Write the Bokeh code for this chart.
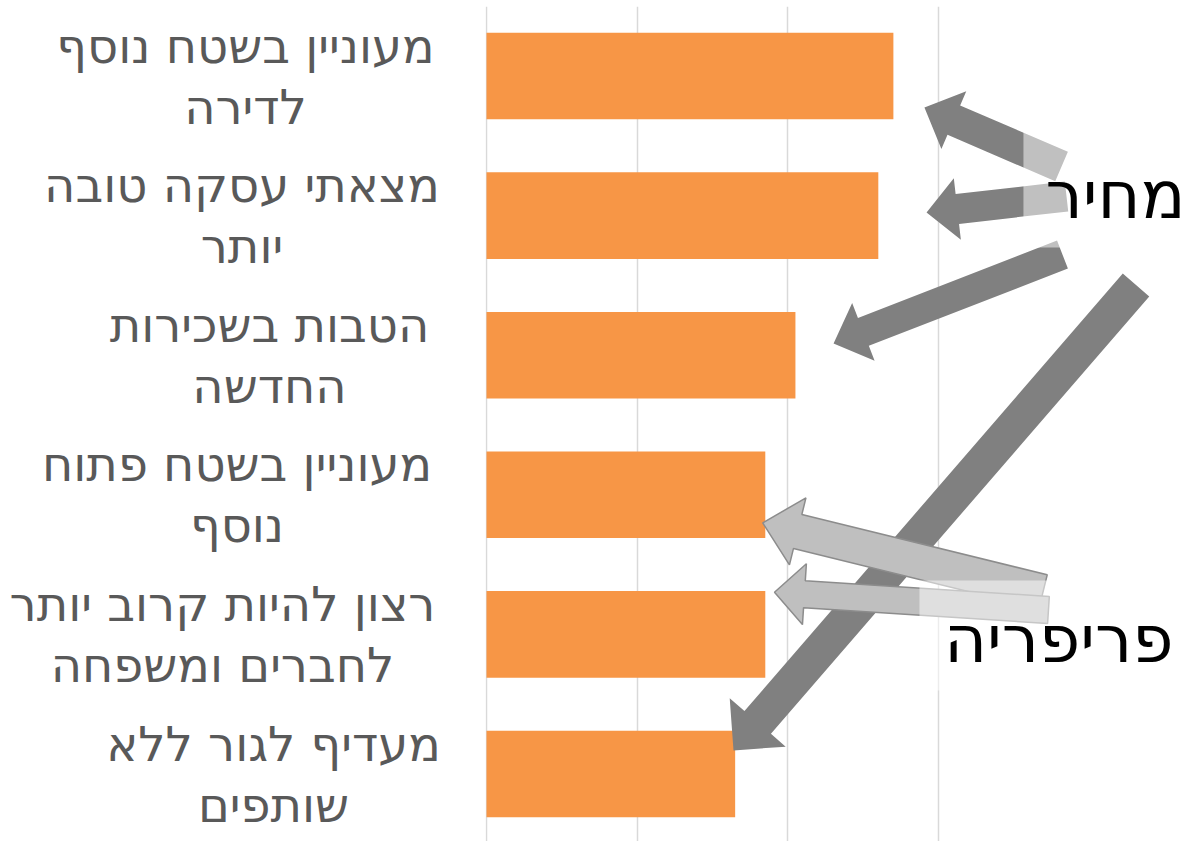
import math
from bokeh.plotting import figure
from bokeh.layouts import row
from bokeh.models import Range1d, FixedTicker, Grid, ColumnDataSource
from bokeh.core.properties import value
from bokeh.embed import file_html
from bokeh.resources import INLINE

# ---------------- data ----------------
categories = [
    "מעוניין בשטח נוסף\nלדירה",
    "מצאתי עסקה טובה\nיותר",
    "הטבות בשכירות\nהחדשה",
    "מעוניין בשטח פתוח\nנוסף",
    "רצון להיות קרוב יותר\nלחברים ומשפחה",
    "מעדיף לגור ללא\nשותפים",
]
values = [0.27, 0.26, 0.205, 0.185, 0.185, 0.165]
x_ticks = [0, 0.1, 0.2, 0.3]

callout_price = "מחיר"
callout_periphery = "פריפריה"

# ---------------- layout ----------------
W, H = 1187, 841
LEFT = 485                 # width of the label column
TOP = 6
FRAME_W = W - LEFT
FRAME_H = H - TOP
PX_PER_X = 1507.0          # pixels per value unit
PX_PER_CAT = 139.6         # pixels per category band
X0 = -1.0 / PX_PER_X
X_END = X0 + FRAME_W / PX_PER_X
Y_TOP = (TOP - 75.5) / PX_PER_CAT
Y_BOTTOM = Y_TOP + FRAME_H / PX_PER_CAT
SX = PX_PER_X
SY = PX_PER_CAT

# label block centres (screen px) and line offsets from the bar centre
label_center_px = [245, 241.5, 269, 236.5, 222, 273]
LINE1_OFF, LINE2_OFF = -30.5, 30.5

y_range = Range1d(Y_BOTTOM, Y_TOP)

p = figure(width=FRAME_W, height=H, output_backend="svg", toolbar_location=None,
           x_range=Range1d(X0, X_END), y_range=y_range,
           x_axis_location=None, y_axis_location=None,
           min_border_left=0, min_border_right=0,
           min_border_top=TOP, min_border_bottom=0)
p.outline_line_color = None
p.background_fill_color = "white"
p.border_fill_color = "white"
for g in list(p.xgrid) + list(p.ygrid):
    g.visible = False
p.add_layout(Grid(dimension=0, ticker=FixedTicker(ticks=x_ticks),
                  grid_line_color="#D9D9D9", grid_line_width=1.5))

idx = list(range(len(categories)))
p.hbar(y=idx, right=values, left=0, height=0.62,
       fill_color="#F79646", line_color=None)


def to_px(x, y):
    return (x - X0) * SX, (y - Y_TOP) * SY


def to_data(px, py):
    return px / SX + X0, py / SY + Y_TOP


def arrow(tail, tip, shaft, head_w, head_l):
    tx, ty = to_px(*tail)
    hx, hy = to_px(*tip)
    dx, dy = hx - tx, hy - ty
    L = math.hypot(dx, dy)
    ux, uy = dx / L, dy / L
    nx, ny = -uy, ux
    bx, by = hx - ux * head_l, hy - uy * head_l
    s, h = shaft / 2, head_w / 2
    pts = [(tx + nx * s, ty + ny * s), (bx + nx * s, by + ny * s),
           (bx + nx * h, by + ny * h), (hx, hy),
           (bx - nx * h, by - ny * h), (bx - nx * s, by - ny * s),
           (tx - nx * s, ty - ny * s)]
    d = [to_data(*q) for q in pts]
    return [q[0] for q in d], [q[1] for q in d]


DARK = "#808080"
LIGHT = "#BFBFBF"

# big diagonal arrow
xs, ys = arrow((0.4310, 1.497), (0.1639, 4.831), 35, 74, 37)
p.patch(xs, ys, fill_color=DARK, line_color=None)

# price arrows
for tail, tip, sw, hw, hl in [((0.3816, 0.648), (0.2906, 0.2256), 32, 63, 32),
                               ((0.3849, 0.863), (0.2920, 0.978), 30, 62, 31),
                               ((0.3822, 1.279), (0.2303, 1.916), 30, 62, 32)]:
    xs, ys = arrow(tail, tip, sw, hw, hl)
    p.patch(xs, ys, fill_color=DARK, line_color=None)

# semi-transparent box behind "price"
p.quad(left=[0.3563], right=[X_END], top=[0.390], bottom=[1.2285],
       fill_color="white", fill_alpha=0.5, line_color=None)

# periphery arrows
for tail, tip, sw, hw, hl in [((0.3693, 3.695), (0.1833, 3.2006), 35, 69, 36),
                               ((0.3729, 3.825), (0.1911, 3.698), 27, 61, 30)]:
    xs, ys = arrow(tail, tip, sw, hw, hl)
    p.patch(xs, ys, fill_color=LIGHT, line_color="#8C8C8C", line_width=1.5)

p.quad(left=[0.2873], right=[X_END], top=[3.614], bottom=[4.402],
       fill_color="white", fill_alpha=0.5, line_color=None)

p.text(x=[(1185 - 486) / SX], y=[(195 - 75.5) / SY], text=[callout_price],
       text_font=value("DejaVu Sans"), text_font_size="66px",
       text_color="black", text_align="right", text_baseline="alphabetic")
p.text(x=[(1173 - 486) / SX], y=[(639 - 75.5) / SY], text=[callout_periphery],
       text_font=value("DejaVu Sans"), text_font_size="66px",
       text_color="black", text_align="right", text_baseline="alphabetic")

# ---------------- category label column (shares the y scale) ----------------
lab = figure(width=LEFT, height=H, output_backend="svg", toolbar_location=None,
             x_range=Range1d(0, LEFT), y_range=y_range,
             x_axis_location=None, y_axis_location=None,
             min_border_left=0, min_border_right=0,
             min_border_top=TOP, min_border_bottom=0)
lab.outline_line_color = None
lab.xgrid.visible = False
lab.ygrid.visible = False
lab.background_fill_color = "white"
lab.border_fill_color = "white"

l1, l2 = zip(*[c.split("\n") for c in categories])
src = ColumnDataSource(dict(
    x=label_center_px + label_center_px,
    y=[i + LINE1_OFF / SY for i in idx] + [i + LINE2_OFF / SY for i in idx],
    t=list(l1) + list(l2)))
lab.text(x="x", y="y", text="t", source=src,
         text_font=value("DejaVu Sans"), text_font_size="48px",
         text_color="#595959", text_align="center", text_baseline="alphabetic")

layout = row(lab, p, spacing=0)
open("out.html", "w").write(file_html(layout, INLINE))
